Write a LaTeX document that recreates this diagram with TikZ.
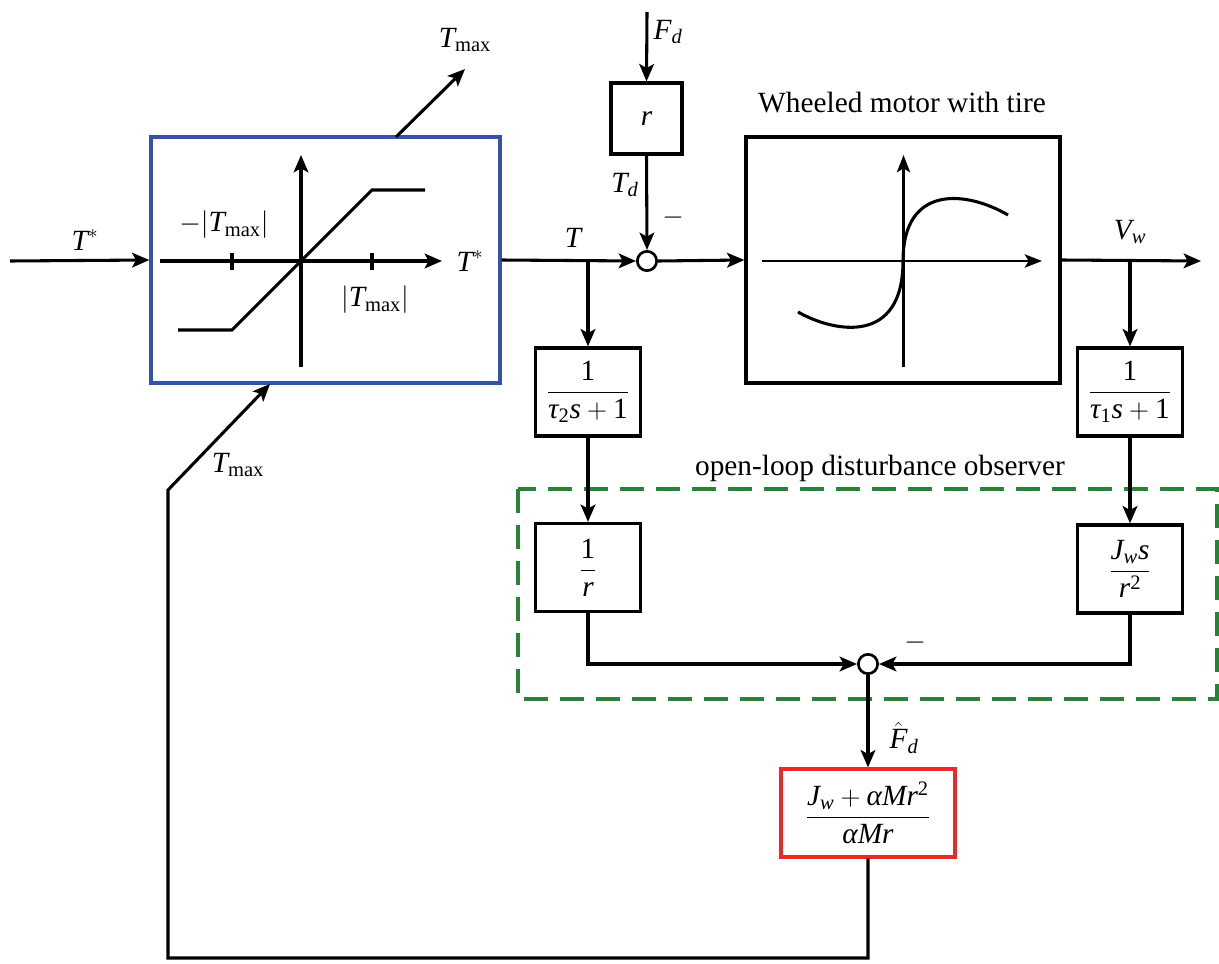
\documentclass[tikz,border=0pt]{standalone}
\usepackage{amsmath}
\usepackage{fontspec}
\setmainfont{Liberation Serif}
\usetikzlibrary{arrows.meta}
\newcommand{\vi}[1]{\textit{#1}}
\newcommand{\vr}[1]{\textrm{#1}}
\definecolor{satblue}{RGB}{52,82,168}
\definecolor{obsgreen}{RGB}{40,130,55}
\definecolor{gainred}{RGB}{236,40,40}
\begin{document}
\begin{tikzpicture}[x=0.75pt,y=-0.75pt,
  font=\fontsize{22}{26}\selectfont,
  blk/.style={draw, line width=2.4pt, minimum width=78.75pt, minimum height=66pt, inner sep=0pt, fill=white},
  sumc/.style={draw, circle, line width=2pt, minimum size=14.5pt, inner sep=0pt, fill=white},
  wire/.style={line width=2.3pt},
  conn/.style={line width=2.3pt, -{Stealth[length=13pt,width=11pt,inset=3pt]}},
  axis/.style={line width=2.3pt, -{Stealth[length=13pt,width=11pt,inset=3pt]}},
  thinaxis/.style={line width=1.6pt, -{Stealth[length=13pt,width=10pt,inset=3pt]}},
  lbl/.style={inner sep=0pt}
]
\useasboundingbox (0,0) rectangle (1219,963);

% observer frame
\draw[obsgreen, line width=2.6pt, dash pattern=on 18pt off 9pt] (518,489) rectangle (1217,699);
\node[lbl] (obslbl) at (880,468) {open-loop disturbance observer};

% saturation block
\node[draw=satblue, line width=2.4pt, minimum width=261.75pt, minimum height=184.5pt, inner sep=0pt] (sat) at (325.5,260) {};
\draw[axis] (160,261) -- (442,261);
\draw[axis] (301,367) -- (301,155);
\draw[wire] (232,253) -- (232,270);
\draw[wire] (372,253) -- (372,270);
\draw[wire] (178,330) -- (232,330) -- (372,190) -- (425,190);
\node[lbl] (negtmax) at (224,225) {$-\!\left|\vi{T}_{\vr{max}}\right|$};
\node[lbl] (postmax) at (375,300) {$\left|\vi{T}_{\vr{max}}\right|$};
\node[lbl] (tstarin) at (470,261) {$\vi{T}^{*}$};

% motor block
\node[draw, line width=2.4pt, minimum width=235.5pt, minimum height=184.5pt, inner sep=0pt] (motor) at (903,260) {};
\node[lbl] (motorlbl) at (902,103) {Wheeled motor with tire};
\draw[thinaxis] (762,261) -- (1042,261);
\draw[thinaxis] (903.5,367) -- (903.5,155);
\draw[wire] (798,312) .. controls (835,333) and (903,345) .. (903,261)
               .. controls (903,185) and (965,190) .. (1008,215);

% other blocks
\node[sumc] (sum1) at (647,261) {};
\node[blk, minimum width=53.25pt, minimum height=53.25pt] (rbox) at (646.5,118.5) {$\vi{r}$};
\node[blk] (tau2) at (588,392) {$\dfrac{\vr{1}}{\vi{τ}_{\vr{2}}\vi{s}+\vr{1}}$};
\node[blk] (tau1) at (1130,392) {$\dfrac{\vr{1}}{\vi{τ}_{\vr{1}}\vi{s}+\vr{1}}$};
\node[blk] (invr) at (588,567.5) {$\dfrac{\vr{1}}{\vi{r}}$};
\node[blk] (jws) at (1130,569) {$\dfrac{\vi{J}_{\vi{w}}\vi{s}}{\vi{r}^{\vr{2}}}$};
\node[sumc] (sum2) at (868,664) {};
\node[blk, draw=gainred, minimum width=130.5pt] (gain) at (868,813) {$\dfrac{\vi{J}_{\vi{w}}+\vi{α}\vi{M}\vi{r}^{\vr{2}}}{\vi{α}\vi{M}\vi{r}}$};

% coordinates
\coordinate (in) at (10,261);
\coordinate (fdin) at (647,12);
\coordinate (out) at (1201,261);
\coordinate (tmaxout) at (465,69);
\coordinate (tmaxstart) at (396,137);
\coordinate (fbbot) at (168,958);
\coordinate (fbturn) at (168,490);
\coordinate (fbend) at (270,384);

% connectors
\draw[conn] (in) -- (sat.west);
\draw[conn] (sat.east) -- (sum1.west);
\draw[conn] (sum1.east) -- (motor.west);
\draw[conn] (motor.east) -- (out);
\draw[conn] (fdin) -- (rbox.north);
\draw[conn] (rbox.south) -- (sum1.north);
\draw[conn] (tau2.north |- sum1) -- (tau2.north);
\draw[conn] (tau1.north |- out) -- (tau1.north);
\draw[conn] (tau2.south) -- (invr.north);
\draw[conn] (tau1.south) -- (jws.north);
\draw[conn] (invr.south) |- (sum2.west);
\draw[conn] (jws.south) |- (sum2.east);
\draw[conn] (sum2.south) -- (gain.north);
\draw[conn] (gain.south) |- (fbbot) -- (fbturn) -- (fbend);
\draw[conn] (tmaxstart) -- (tmaxout);

% labels
\node[lbl] (tstar) at (85,240) {$\vi{T}^{*}$};
\node[lbl] (tlbl) at (573,238) {$\vi{T}$};
\node[lbl] (fdlbl) at (668,32) {$\vi{F}_{\vi{d}}$};
\node[lbl] (tdlbl) at (625,185) {$\vi{T}_{\vi{d}}$};
\node[lbl] (minus1) at (673,218) {$-$};
\node[lbl] (vwlbl) at (1130,232) {$\vi{V}_{\vi{w}}$};
\node[lbl] (minus2) at (915,643) {$-$};
\node[lbl] (fhat) at (904,738) {$\hat{\vi{F}}_{\vi{d}}$};
\node[lbl] (tmaxtop) at (465,40) {$\vi{T}_{\vr{max}}$};
\node[lbl] (tmaxfb) at (238,465) {$\vi{T}_{\vr{max}}$};
\end{tikzpicture}
\end{document}
